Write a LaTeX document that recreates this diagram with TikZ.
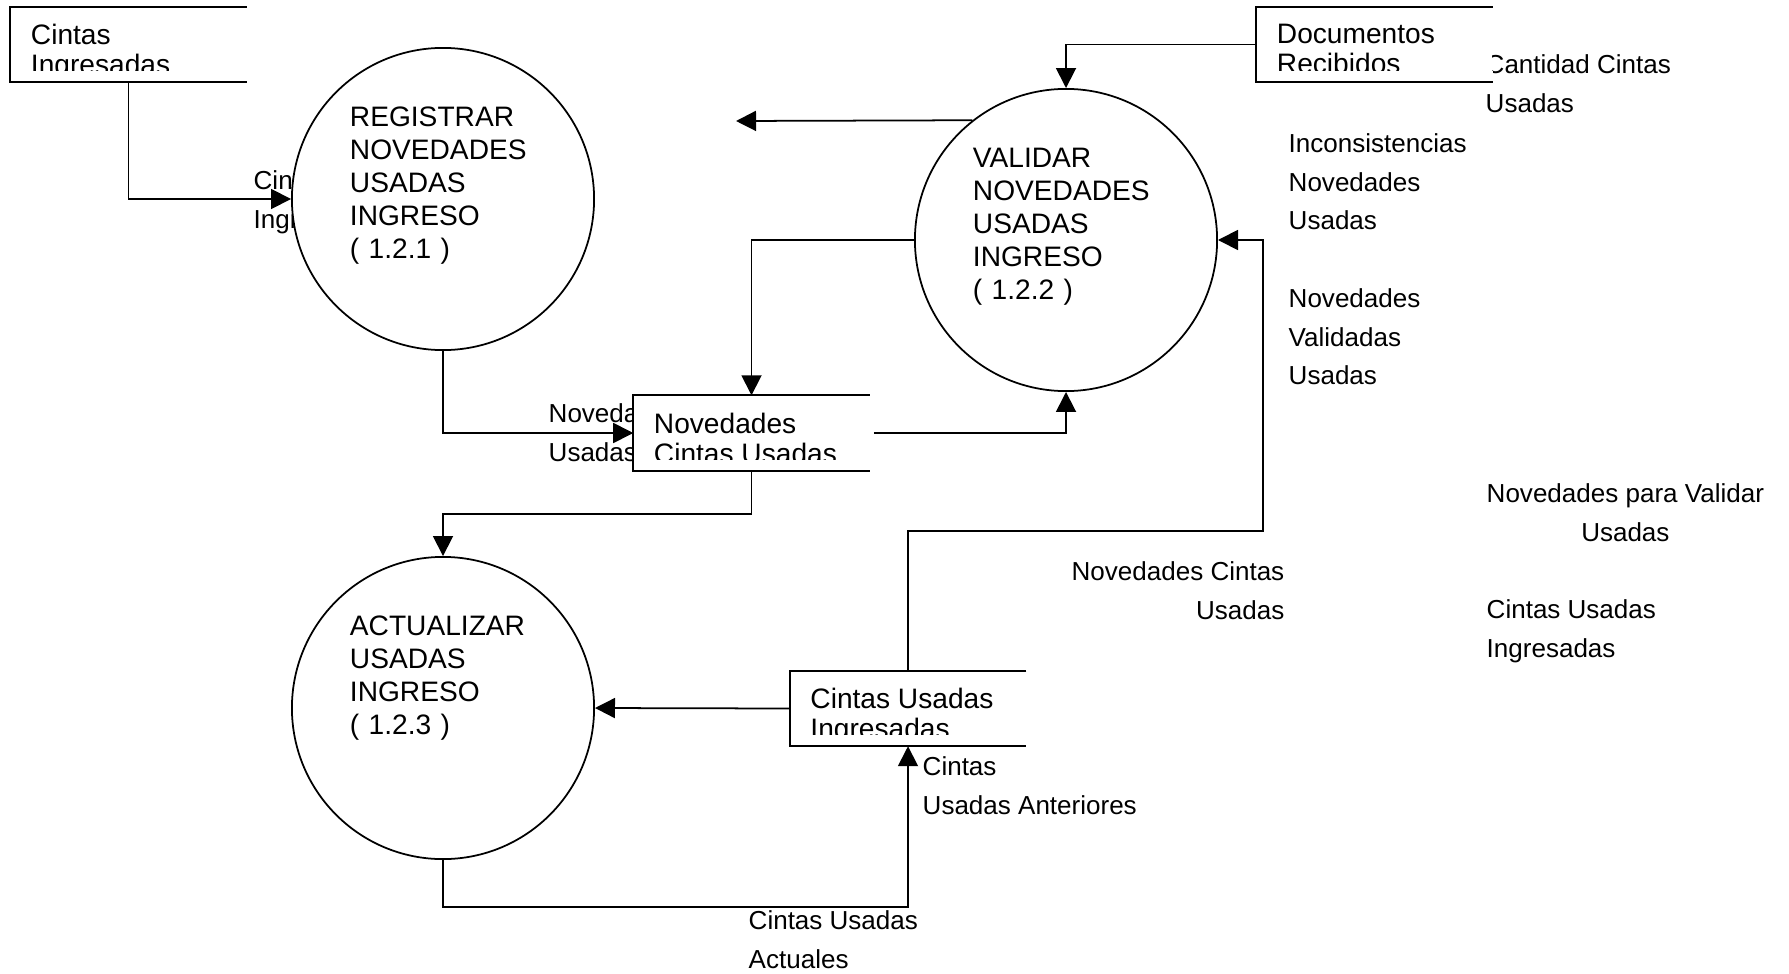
\documentclass[tikz,border=0pt]{standalone}
\usepackage{fontspec}
\setmainfont{Liberation Sans}
\usetikzlibrary{arrows.meta, positioning, calc}
\tikzset{
	proc/.style     ={circle, draw=black, line width=0.5pt, fill=white, minimum size=3.02cm, inner sep=0pt, text width=1.86cm, align=left, font=\fontsize{8}{9.4}\selectfont},
	store/.style    ={rectangle, fill=white, minimum width=2.35cm, minimum height=0.74cm, inner sep=0pt},
	storetxt/.style ={anchor=north west, align=left, inner sep=0pt, font=\fontsize{8}{8.5}\selectfont},
	storeline/.style={draw=black, line width=0.5pt},
	lbl/.style      ={anchor=north west, align=left, inner sep=0pt, font=\fontsize{7.4}{11}\selectfont},
	flow/.style     ={-{Triangle[length=2mm, width=2mm]}, line width=0.5pt},
}

\begin{document}
\begin{tikzpicture}[x=0.01cm, y=-0.01cm]
	\useasboundingbox (0,0) rectangle (1789,973);
	% flow labels (partly hidden by the shapes drawn over them)
	\node[lbl] (lCI) at (253,170) {Cintas\\Ingresadas};
	\node[lbl] (lNCU) at (548,403) {Novedades Cintas\\Usadas};
	\node[lbl] (lCCU) at (1485,54) {Cantidad Cintas\\Usadas};
	\node[lbl] (lINC) at (1288,133) {Inconsistencias\\Novedades\\Usadas};
	\node[lbl] (lNVU) at (1288,288) {Novedades\\Validadas\\Usadas};
	\node[lbl, align=center] (lNPV) at (1486,483) {Novedades para Validar\\Usadas};
	\node[lbl, anchor=north east, align=right] (lNCV) at (1285,561) {Novedades Cintas\\Usadas};
	\node[lbl] (lCUI) at (1486,599) {Cintas Usadas\\Ingresadas};
	\node[lbl] (lCUA) at (922,756) {Cintas\\Usadas Anteriores};
	\node[lbl] (lCUC) at (748,910) {Cintas Usadas\\Actuales};

	% processes
	\node[proc] (c1) at (443,199) {REGISTRAR\\NOVEDADES\\USADAS\\INGRESO\\( 1.2.1 )\\\mbox{}};
	\node[proc] (c2) at (1066,240) {VALIDAR\\NOVEDADES\\USADAS\\INGRESO\\( 1.2.2 )\\\mbox{}};
	\node[proc] (c3) at (443,708) {ACTUALIZAR\\USADAS\\INGRESO\\( 1.2.3 )\\\mbox{}\\\mbox{}};

	% data stores
	\node[store] (ci) at (128.5,44.5) {};
	\node[storetxt] (ci-t) at ([shift={(0.2cm,-0.17cm)}]ci.north west) {Cintas\\Ingresadas};
	\fill[white] (ci.south west) rectangle ([yshift=0.11cm]ci.south east);
	\draw[storeline] (ci.north east) -- (ci.north west) -- (ci.south west) -- (ci.south east);

	\node[store] (doc) at (1374.5,44.5) {};
	\node[storetxt] (doc-t) at ([shift={(0.2cm,-0.17cm)}]doc.north west) {Documentos\\Recibidos};
	\fill[white] (doc.south west) rectangle ([yshift=0.11cm]doc.south east);
	\draw[storeline] (doc.north east) -- (doc.north west) -- (doc.south west) -- (doc.south east);

	\node[store] (nov) at (751.5,433) {};
	\node[storetxt] (nov-t) at ([shift={(0.2cm,-0.17cm)}]nov.north west) {Novedades\\Cintas Usadas};
	\fill[white] (nov.south west) rectangle ([yshift=0.11cm]nov.south east);
	\draw[storeline] (nov.north east) -- (nov.north west) -- (nov.south west) -- (nov.south east);

	\node[store] (cui) at (908,708.5) {};
	\node[storetxt] (cui-t) at ([shift={(0.2cm,-0.17cm)}]cui.north west) {Cintas Usadas\\Ingresadas};
	\fill[white] (cui.south west) rectangle ([yshift=0.11cm]cui.south east);
	\draw[storeline] (cui.north east) -- (cui.north west) -- (cui.south west) -- (cui.south east);

	% flows
	\coordinate (incout) at (736,121);
	\coordinate (valbend) at (1263,531);
	\draw[flow] (ci.south) |- (c1.west);
	\draw[flow] (doc.west) -| (c2.north);
	\draw[flow] (c2.128) -- (incout);
	\draw[flow] (c2.west) -| (nov.north);
	\draw[flow] (c1.south) |- (nov.west);
	\draw[flow] ([xshift=0.04cm]nov.east) -| (c2.south);
	\draw[flow] (nov.south) -- ++(0,43) -| (c3.north);
	\draw[flow] (cui.west) -- (c3.east);
	\draw[flow] (cui.north) |- (valbend) |- (c2.east);
	\draw[flow] (c3.south) -- ++(0,47) -| (cui.south);
\end{tikzpicture}
\end{document}
